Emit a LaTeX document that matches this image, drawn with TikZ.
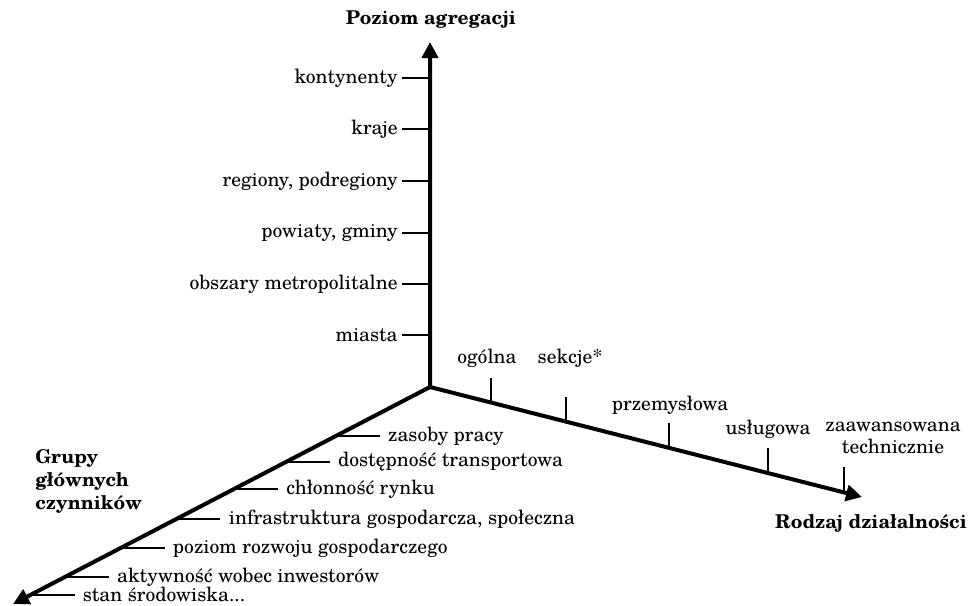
\documentclass[tikz,border=0pt]{standalone}
\usepackage{fontspec}
\setmainfont{TeX Gyre Schola}
\usetikzlibrary{arrows.meta,calc,positioning}

\begin{document}
\begin{tikzpicture}[x=0.5pt, y=-0.5pt,
    axis/.style={line width=2pt, line join=miter},
    tick/.style={line width=0.7pt},
    lbl/.style={font=\fontsize{9.8}{11}\selectfont, inner sep=2pt},
    ttl/.style={font=\fontsize{9.5}{11.5}\selectfont\bfseries, inner sep=2pt}]
  \useasboundingbox (0,0) rectangle (969,605);
  % Axes
  \coordinate (O) at (430,387);
  \coordinate (Ztop) at (430,42);
  \coordinate (Xend) at (862,497);
  \coordinate (Yend) at (13,604);
  \draw[axis, {Triangle[length=8pt,width=8pt]}-{Triangle[length=8pt,width=8pt]}]
    (Ztop) -- (O) -- (Xend);
  \draw[axis, line cap=round, -{Triangle[length=8pt,width=8pt]}] (O) -- (Yend);
  \node[ttl] (zlab) at (431,20) {Poziom agregacji};
  \node[ttl] (xlab) at (871,523) {Rodzaj działalności};
  \node[ttl, anchor=west, align=left] (ylab) at (31,481)
    {Grupy\\głównych\\czynników};
  % Vertical axis: aggregation level
  \node[lbl, anchor=east] (kont) at (402,78) {kontynenty};
  \draw[tick] (kont.east) -- (kont.east -| O);
  \node[lbl, anchor=east] (kraje) at (402,129) {kraje};
  \draw[tick] (kraje.east) -- (kraje.east -| O);
  \node[lbl, anchor=east] (reg) at (402,181) {regiony, podregiony};
  \draw[tick] (reg.east) -- (reg.east -| O);
  \node[lbl, anchor=east] (pow) at (402,233) {powiaty, gminy};
  \draw[tick] (pow.east) -- (pow.east -| O);
  \node[lbl, anchor=east] (metro) at (402,284) {obszary metropolitalne};
  \draw[tick] (metro.east) -- (metro.east -| O);
  \node[lbl, anchor=east] (miasta) at (402,335) {miasta};
  \draw[tick] (miasta.east) -- (miasta.east -| O);
  % Right axis: kind of activity
  \coordinate (r1) at ($(O)!0.141!(Xend)$);
  \draw[tick] (r1) -- ++(0,-25);
  \node[lbl] (ogol) at (487,358) {ogólna};
  \coordinate (r2) at ($(O)!0.315!(Xend)$);
  \draw[tick] (r2) -- ++(0,-25);
  \node[lbl] (sekcje) at (570,358) {sekcje*};
  \coordinate (r3) at ($(O)!0.553!(Xend)$);
  \draw[tick] (r3) -- ++(0,-25);
  \node[lbl] (przem) at (670,405) {przemysłowa};
  \coordinate (r4) at ($(O)!0.782!(Xend)$);
  \draw[tick] (r4) -- ++(0,-25);
  \node[lbl] (uslug) at (768,429) {usługowa};
  \coordinate (r5) at ($(O)!0.958!(Xend)$);
  \draw[tick] (r5) -- ++(0,-25);
  \node[lbl, align=center] (zaaw) at (893,438) {zaawansowana\\technicznie};
  % Lower axis: groups of main factors
  \coordinate (g1) at ($(O)!0.226!(Yend)$);
  \draw[tick] (g1) -- ++(44,0) coordinate (g1e);
  \node[lbl, right=2pt of g1e] (zas) {zasoby pracy};
  \coordinate (g2) at ($(O)!0.346!(Yend)$);
  \draw[tick] (g2) -- ++(44,0) coordinate (g2e);
  \node[lbl, right=2pt of g2e] (dost) {dostępność transportowa};
  \coordinate (g3) at ($(O)!0.470!(Yend)$);
  \draw[tick] (g3) -- ++(44,0) coordinate (g3e);
  \node[lbl, right=2pt of g3e] (chl) {chłonność rynku};
  \coordinate (g4) at ($(O)!0.608!(Yend)$);
  \draw[tick] (g4) -- ++(44,0) coordinate (g4e);
  \node[lbl, right=2pt of g4e] (infra) {infrastruktura gospodarcza, społeczna};
  \coordinate (g5) at ($(O)!0.742!(Yend)$);
  \draw[tick] (g5) -- ++(44,0) coordinate (g5e);
  \node[lbl, right=2pt of g5e] (rozw) {poziom rozwoju gospodarczego};
  \coordinate (g6) at ($(O)!0.876!(Yend)$);
  \draw[tick] (g6) -- ++(44,0) coordinate (g6e);
  \node[lbl, right=2pt of g6e] (akt) {aktywność wobec inwestorów};
  \coordinate (g7) at ($(O)!0.958!(Yend)$);
  \draw[tick] (g7) -- ++(44,0) coordinate (g7e);
  \node[lbl, right=2pt of g7e] (stan) {stan środowiska...};
\end{tikzpicture}
\end{document}
